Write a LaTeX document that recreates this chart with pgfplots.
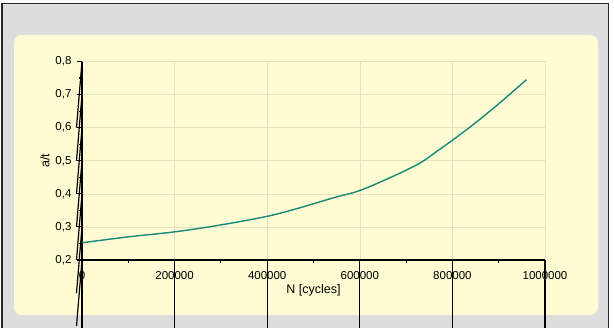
\documentclass[border=0pt]{standalone}
\usepackage{fontspec}
\setmainfont{Liberation Sans}
\usepackage{pgfplots}
\pgfplotsset{compat=1.18}
\definecolor{bggray}{RGB}{221,221,221}
\definecolor{panel}{RGB}{255,251,210}
\definecolor{gridc}{RGB}{230,226,192}
\definecolor{curve}{RGB}{24,136,122}
\pgfplotsset{
  commonaxis/.style={
    at={(82pt,-260pt)}, anchor=south west,
    scale only axis, width=463pt, height=198.5pt,
    xmin=0, xmax=1000000, ymin=0.2, ymax=0.8,
    scaled ticks=false,
  }
}
\begin{document}
\begin{tikzpicture}[x=1pt,y=1pt]
\path[use as bounding box] (0,0) rectangle (614,-328);
\fill[white] (0,0) rectangle (614,-328);
\fill[bggray] (2,-3.5) rectangle (608.5,-328);
\draw[black!85, line width=1.8pt] (2,-328) -- (2,-3.5) -- (608.5,-3.5) -- (608.5,-328);
\fill[panel, rounded corners=8pt] (14,-35) rectangle (598,-315);
% grid only
\begin{axis}[
  commonaxis,
  xtick={0,200000,400000,600000,800000,1000000},
  ytick={0.2,0.3,0.4,0.5,0.6,0.7,0.8},
  axis line style={draw=none},
  tick style={draw=none},
  xticklabels={}, yticklabels={},
  xmajorgrids, ymajorgrids,
  major grid style={gridc, line width=0.6pt},
]
\end{axis}
% axes, ticks and curve
\begin{axis}[
  commonaxis,
  clip=false,
  xtick={0,200000,400000,600000,800000,1000000},
  ytick={0.2,0.3,0.4,0.5,0.6,0.7,0.8},
  axis lines=left,
  axis line style={-, line width=1.6pt, black},
  xticklabels={0,200000,400000,600000,800000,1000000},
  yticklabels={{0,2},{0,3},{0,4},{0,5},{0,6},{0,7},{0,8}},
  minor x tick num=1, minor y tick num=1,
  tick align=outside,
  major tick length=5.5pt, minor tick length=3.5pt,
  tick style={black, line width=1.1pt},
  xticklabel style={font=\fontsize{11.5}{13}\selectfont, yshift=-2pt},
  yticklabel style={font=\fontsize{11.5}{13}\selectfont, xshift=-1.5pt},
  label style={font=\fontsize{12.5}{14}\selectfont},
  xlabel={N [cycles]},
  ylabel={a/t},
  xlabel style={at={(axis description cs:0.5,0)}, anchor=center, yshift=-30pt},
  ylabel style={at={(axis description cs:0,0.5)}, anchor=center, yshift=37pt},
]
% long ticks at labelled positions
\draw[black, line width=1.2pt] (axis cs:0,0.2) -- ++(0,-5.5pt);
\draw[black, line width=1.2pt] (axis cs:200000,0.2) -- ++(0,-5.5pt);
\draw[black, line width=1.2pt] (axis cs:400000,0.2) -- ++(0,-5.5pt);
\draw[black, line width=1.2pt] (axis cs:600000,0.2) -- ++(0,-5.5pt);
\draw[black, line width=1.2pt] (axis cs:800000,0.2) -- ++(0,-5.5pt);
\draw[black, line width=1.2pt] (axis cs:1000000,0.2) -- ++(0,-5.5pt);
\draw[black, line width=1.2pt] (axis cs:0,0.2) -- ++(-5.5pt,0);
\draw[black, line width=1.2pt] (axis cs:0,0.3) -- ++(-5.5pt,0);
\draw[black, line width=1.2pt] (axis cs:0,0.4) -- ++(-5.5pt,0);
\draw[black, line width=1.2pt] (axis cs:0,0.5) -- ++(-5.5pt,0);
\draw[black, line width=1.2pt] (axis cs:0,0.6) -- ++(-5.5pt,0);
\draw[black, line width=1.2pt] (axis cs:0,0.7) -- ++(-5.5pt,0);
\draw[black, line width=1.2pt] (axis cs:0,0.8) -- ++(-5.5pt,0);
\addplot[curve, line width=1.4pt, smooth, tension=0.5] table {
x y
0 0.252
100000 0.270
200000 0.285
300000 0.306
400000 0.332
471000 0.358
543000 0.388
600000 0.410
672000 0.453
730000 0.493
766000 0.528
800000 0.562
840000 0.604
875000 0.643
910000 0.684
960000 0.745
};
\end{axis}
\end{tikzpicture}
\end{document}
